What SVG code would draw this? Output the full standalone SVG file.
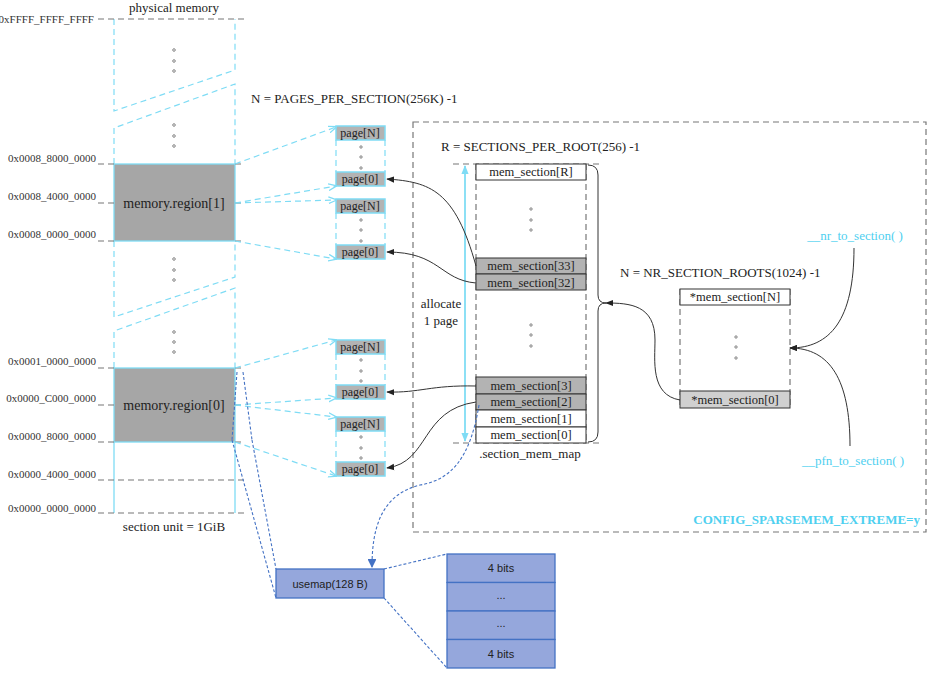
<svg xmlns="http://www.w3.org/2000/svg" width="931" height="675" viewBox="0 0 931 675">
<defs>
<style>
text{font-family:"Liberation Serif",serif;fill:#222}
.addr{font-size:11px;text-anchor:end;fill:#333}
.gd{stroke:#777;stroke-width:1.2;stroke-dasharray:6,4;fill:none}
.cd{stroke:#7fdcf5;stroke-width:1.2;stroke-dasharray:6,4;fill:none}
.cs{stroke:#7fdcf5;stroke-width:1.3;fill:none}
.pg{fill:#b3b3b3;stroke:#7fdcf5;stroke-width:1.5}
.pt{font-size:12px;text-anchor:middle}
.dot{fill:#fff;stroke:#555;stroke-width:0.7}
.ms{stroke:#333;stroke-width:1}
.mt{font-size:12.5px;text-anchor:middle}
.bk{stroke:#333;stroke-width:1;fill:none}
.bd{stroke:#4472c4;stroke-width:1.1;stroke-dasharray:3,2;fill:none}
.bl{fill:#95a7dc;stroke:#4472c4;stroke-width:1.3}
.st{font-family:"Liberation Sans",sans-serif;font-size:11px;text-anchor:middle;fill:#222}
.cy{fill:#4fd0f0}
</style>
<marker id="ab" viewBox="0 0 10 10" refX="9" refY="5" markerWidth="8" markerHeight="8" orient="auto"><path d="M0,1 L10,5 L0,9 z" fill="#222"/></marker>
<marker id="ac" viewBox="0 0 10 10" refX="9" refY="5" markerWidth="7" markerHeight="7" orient="auto"><path d="M0,1 L10,5 L0,9" fill="none" stroke="#7fdcf5" stroke-width="1.5"/></marker>
<marker id="acf" viewBox="0 0 10 10" refX="9" refY="5" markerWidth="7" markerHeight="7" orient="auto-start-reverse"><path d="M0,1 L10,5 L0,9 z" fill="#7fdcf5"/></marker>
<marker id="abl" viewBox="0 0 10 10" refX="9" refY="5" markerWidth="8" markerHeight="8" orient="auto"><path d="M0,0 L10,5 L0,10 z" fill="#4472c4"/></marker>
</defs>

<g id="physical-memory">
<text x="174" y="12" text-anchor="middle" font-size="13">physical memory</text>
<path class="cd" d="M114,19 V111 L235,70 V19"/>
<path class="cd" d="M114,164 V128 L235,84 V164"/>
<path class="cd" d="M114,241 V317 L235,277 V241"/>
<path class="cd" d="M114,368 V331 L235,288 V368"/>
<g class="dot"><circle cx="174" cy="50" r="1.3"/><circle cx="174" cy="61" r="1.3"/><circle cx="174" cy="71" r="1.3"/>
<circle cx="174" cy="125" r="1.3"/><circle cx="174" cy="136" r="1.3"/><circle cx="174" cy="146" r="1.3"/>
<circle cx="174" cy="259" r="1.3"/><circle cx="174" cy="270" r="1.3"/><circle cx="174" cy="280" r="1.3"/>
<circle cx="174" cy="332" r="1.3"/><circle cx="174" cy="342" r="1.3"/><circle cx="174" cy="352" r="1.3"/></g>
<rect x="114" y="164" width="121" height="77" fill="#a6a6a6" stroke="#7fdcf5" stroke-width="1.3"/>
<text x="174" y="208" text-anchor="middle" font-size="14">memory.region[1]</text>
<rect x="114" y="368" width="121" height="74" fill="#a6a6a6" stroke="#7fdcf5" stroke-width="1.3"/>
<text x="174" y="410" text-anchor="middle" font-size="14">memory.region[0]</text>
<path class="cs" d="M114,442 V513 M235,442 V513"/>
<path class="gd" d="M98,19 H245 M98,164 H114 M235,164 H245 M98,203 H114 M235,203 H245 M98,241 H114 M235,241 H245 M98,368 H114 M235,368 H245 M98,405 H114 M235,405 H245 M98,442 H114 M235,442 H245 M98,480 H245 M98,513 H245"/>
<text class="addr" x="94" y="23">0xFFFF_FFFF_FFFF</text>
<text class="addr" x="96" y="162">0x0008_8000_0000</text>
<text class="addr" x="96" y="200">0x0008_4000_0000</text>
<text class="addr" x="96" y="238">0x0008_0000_0000</text>
<text class="addr" x="96" y="365">0x0001_0000_0000</text>
<text class="addr" x="96" y="402">0x0000_C000_0000</text>
<text class="addr" x="96" y="440">0x0000_8000_0000</text>
<text class="addr" x="96" y="478">0x0000_4000_0000</text>
<text class="addr" x="96" y="512">0x0000_0000_0000</text>
<text x="174" y="531" text-anchor="middle" font-size="13">section unit = 1GiB</text>
</g>

<text x="251" y="103" font-size="13">N = PAGES_PER_SECTION(256K) -1</text>

<g id="pages">
<path class="cd" d="M336,140 V172 M385,140 V172 M336,213 V245 M385,213 V245 M336,354 V385 M385,354 V385 M336,431 V462 M385,431 V462"/>
<rect class="pg" x="336" y="126" width="49" height="14"/><text class="pt" x="360" y="137">page[N]</text>
<rect class="pg" x="336" y="172" width="49" height="14"/><text class="pt" x="360" y="183">page[0]</text>
<rect class="pg" x="336" y="199" width="49" height="14"/><text class="pt" x="360" y="210">page[N]</text>
<rect class="pg" x="336" y="245" width="49" height="14"/><text class="pt" x="360" y="256">page[0]</text>
<rect class="pg" x="336" y="340" width="49" height="14"/><text class="pt" x="360" y="351">page[N]</text>
<rect class="pg" x="336" y="385" width="49" height="14"/><text class="pt" x="360" y="396">page[0]</text>
<rect class="pg" x="336" y="417" width="49" height="14"/><text class="pt" x="360" y="428">page[N]</text>
<rect class="pg" x="336" y="462" width="49" height="14"/><text class="pt" x="360" y="473">page[0]</text>
<g class="dot"><circle cx="361" cy="147" r="1.2"/><circle cx="361" cy="157" r="1.2"/><circle cx="361" cy="168" r="1.2"/>
<circle cx="361" cy="220" r="1.2"/><circle cx="361" cy="230" r="1.2"/><circle cx="361" cy="241" r="1.2"/>
<circle cx="361" cy="360" r="1.2"/><circle cx="361" cy="371" r="1.2"/><circle cx="361" cy="381" r="1.2"/>
<circle cx="361" cy="437" r="1.2"/><circle cx="361" cy="448" r="1.2"/><circle cx="361" cy="458" r="1.2"/></g>
</g>

<g id="sparse-box">
<rect x="413" y="122" width="513" height="410" class="gd"/>
<text x="920" y="524" text-anchor="end" font-size="13" font-weight="bold" class="cy">CONFIG_SPARSEMEM_EXTREME=y</text>
</g>

<g id="mem-section-map">
<text x="441" y="151" font-size="13">R = SECTIONS_PER_ROOT(256) -1</text>
<path class="gd" d="M453,164 H600 M453,443 H600 M476,164 V443 M586,164 V443"/>
<rect x="476" y="164" width="110" height="16" fill="#fff" class="ms"/><text class="mt" x="531" y="176">mem_section[R]</text>
<rect x="476" y="258" width="110" height="16" fill="#b3b3b3" class="ms"/><text class="mt" x="531" y="270">mem_section[33]</text>
<rect x="476" y="274" width="110" height="16" fill="#b3b3b3" class="ms"/><text class="mt" x="531" y="287">mem_section[32]</text>
<rect x="476" y="377" width="110" height="17" fill="#b3b3b3" class="ms"/><text class="mt" x="531" y="390">mem_section[3]</text>
<rect x="476" y="394" width="110" height="16" fill="#b3b3b3" class="ms"/><text class="mt" x="531" y="406">mem_section[2]</text>
<rect x="476" y="410" width="110" height="17" fill="#fff" class="ms"/><text class="mt" x="531" y="423">mem_section[1]</text>
<rect x="476" y="427" width="110" height="16" fill="#fff" class="ms"/><text class="mt" x="531" y="439">mem_section[0]</text>
<g class="dot"><circle cx="531" cy="209" r="1.2"/><circle cx="531" cy="220" r="1.2"/><circle cx="531" cy="230" r="1.2"/>
<circle cx="531" cy="325" r="1.2"/><circle cx="531" cy="335" r="1.2"/><circle cx="531" cy="346" r="1.2"/></g>
<path class="bk" d="M588,165 Q598,165 598,175 V295 Q598,303 606,303 Q598,303 598,311 V432 Q598,442 588,442"/>
<line x1="465" y1="166" x2="465" y2="441" stroke="#4fd0f0" stroke-width="1.3" marker-start="url(#acf)" marker-end="url(#acf)"/>
<text x="441" y="308" text-anchor="middle" font-size="13">allocate</text>
<text x="441" y="325" text-anchor="middle" font-size="13">1 page</text>
<text x="530" y="458" text-anchor="middle" font-size="13">.section_mem_map</text>
</g>

<g id="section-roots">
<text x="620" y="277" font-size="13">N = NR_SECTION_ROOTS(1024) -1</text>
<path class="gd" d="M680,289 V408 M790,289 V408"/>
<rect x="680" y="289" width="110" height="16" fill="#fff" class="ms"/><text class="mt" x="735" y="301">*mem_section[N]</text>
<rect x="680" y="391" width="110" height="17" fill="#d0d0d0" class="ms"/><text class="mt" x="735" y="404">*mem_section[0]</text>
<g class="dot"><circle cx="736" cy="337" r="1.2"/><circle cx="736" cy="347" r="1.2"/><circle cx="736" cy="358" r="1.2"/></g>
<text x="855" y="240" text-anchor="middle" font-size="13" class="cy">__nr_to_section( )</text>
<text x="853" y="465" text-anchor="middle" font-size="13" class="cy">__pfn_to_section( )</text>
</g>

<g id="usemap">
<rect class="bl" x="276" y="569" width="108" height="29"/>
<text class="st" x="330" y="588">usemap(128 B)</text>
<rect class="bl" x="447" y="554" width="108" height="28.5"/>
<rect class="bl" x="447" y="582.5" width="108" height="28.5"/>
<rect class="bl" x="447" y="611" width="108" height="28.5"/>
<rect class="bl" x="447" y="639.5" width="108" height="28.5"/>
<text class="st" x="501" y="572">4 bits</text>
<text class="st" x="501" y="599">...</text>
<text class="st" x="501" y="627">...</text>
<text class="st" x="501" y="658">4 bits</text>
</g>

<g id="connectors">
<path class="cd" marker-end="url(#ac)" d="M235,164 L336,127"/>
<path class="cd" marker-end="url(#ac)" d="M235,203 L336,186"/>
<path class="cd" marker-end="url(#ac)" d="M235,203 L336,200"/>
<path class="cd" marker-end="url(#ac)" d="M235,241 L336,259"/>
<path class="cd" marker-end="url(#ac)" d="M235,368 L336,340"/>
<path class="cd" marker-end="url(#ac)" d="M235,405 L336,398"/>
<path class="cd" marker-end="url(#ac)" d="M235,405 L336,417"/>
<path class="cd" marker-end="url(#ac)" d="M235,442 L336,476"/>
<path class="bk" marker-end="url(#ab)" d="M476,266 C455,190 430,182 387,179"/>
<path class="bk" marker-end="url(#ab)" d="M476,283 C440,280 440,252 387,252"/>
<path class="bk" marker-end="url(#ab)" d="M476,386 C430,385 420,393 387,392"/>
<path class="bk" marker-end="url(#ab)" d="M476,402 C420,410 430,462 387,468"/>
<path class="bk" marker-end="url(#ab)" d="M680,400 C650,395 655,360 655,340 C655,305 630,303 606,303"/>
<path class="bk" marker-end="url(#ab)" d="M854,248 C854,320 830,348 790,348"/>
<path class="bk" marker-end="url(#ab)" d="M850,446 C850,380 830,348 790,348"/>
<path class="bd" marker-end="url(#abl)" d="M479,405 C470,460 450,480 420,485 C380,495 372,530 372,567"/>
<path class="bd" d="M232,440 L276,598 M252,440 L276,569 M237,372 L232,440 M243,372 L252,440"/>
<path class="bd" d="M384,569 L447,554 M384,598 L447,668"/>
</g>
</svg>
